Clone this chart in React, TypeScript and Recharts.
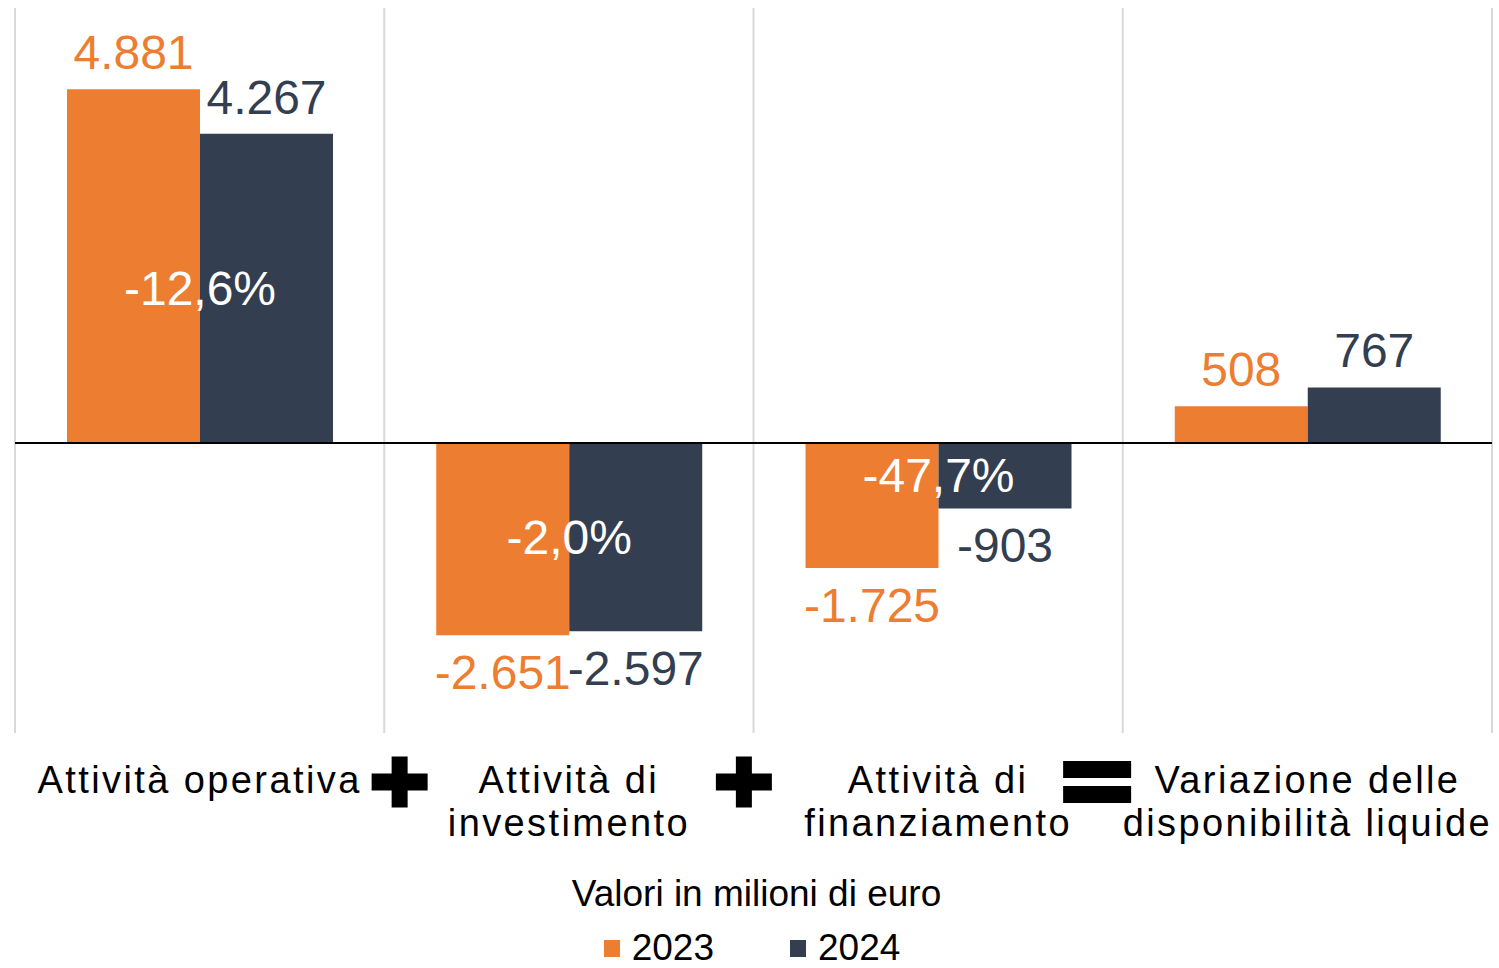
import React from 'react';
import { BarChart, Bar, XAxis, YAxis, CartesianGrid, ReferenceLine, LabelList, Legend } from 'recharts';

const categories = [
  'Attività operativa',
  'Attività di\ninvestimento',
  'Attività di\nfinanziamento',
  'Variazione delle\ndisponibilità liquide',
];
const values2023 = [4881, -2651, -1725, 508];
const values2024 = [4267, -2597, -903, 767];
const changeLabels = ['-12,6%', '-2,0%', '-47,7%', ''];
const operators = ['+', '+', '=', ''];
const seriesNames = ['2023', '2024'];
const axisTitle = 'Valori in milioni di euro';

const ORANGE = '#ED7D31';
const NAVY = '#333F50';
const colors = [ORANGE, NAVY];
const FONT = '"Liberation Sans", Arial, Helvetica, sans-serif';

// horizontal offset of the +/= sign from its category centre
const OPERATOR_DX = [200, 175, 159];

const data = categories.map((name, i) => ({
  name,
  y2023: values2023[i],
  y2024: values2024[i],
  pct: changeLabels[i],
}));

const fmt = (v: number) => {
  const s = String(Math.abs(v)).replace(/\B(?=(\d{3})+(?!\d))/g, '.');
  return v < 0 ? '-' + s : s;
};

const CategoryTick = (props: any) => {
  const { x, y, payload } = props;
  const index = props.index ?? payload.index ?? 0;
  const lines = String(payload.value).split('\n');
  const op = operators[index];
  const ox = x + (OPERATOR_DX[index] ?? 0);
  const oy = y + 49;
  return (
    <g>
      <text textAnchor="middle" fill="#000" fontSize={38} letterSpacing={2.4} fontFamily={FONT}>
        {lines.map((l, i) => (
          <tspan key={i} x={x} y={y + 60 + i * 43}>
            {l}
          </tspan>
        ))}
      </text>
      {op === '+' && (
        <g fill="#000">
          <rect x={ox - 28} y={oy - 8.5} width={56} height={17} />
          <rect x={ox - 8} y={oy - 25.5} width={16} height={51} />
        </g>
      )}
      {op === '=' && (
        <g fill="#000">
          <rect x={ox - 34} y={oy - 21} width={68} height={17} />
          <rect x={ox - 34} y={oy + 4} width={68} height={17} />
        </g>
      )}
    </g>
  );
};

const makeValueLabel = (color: string) => (props: any) => {
  const { x, y, width, height, value } = props;
  const top = Math.min(y, y + height);
  const bottom = Math.max(y, y + height);
  const ty = value >= 0 ? top - 20 : bottom + 54;
  return (
    <text x={x + width / 2} y={ty} textAnchor="middle" fill={color} fontSize={48} fontFamily={FONT}>
      {fmt(value)}
    </text>
  );
};

// change % sits on the boundary between the two bars, at the middle of the 2024 bar
const ChangeLabel = (props: any) => {
  const { x, y, height, value } = props;
  if (!value) return null;
  return (
    <text
      x={x}
      y={y + height / 2}
      textAnchor="middle"
      dominantBaseline="central"
      fill="#fff"
      fontSize={48}
      fontFamily={FONT}
    >
      {value}
    </text>
  );
};

const renderLegend = () => (
  <div style={{ fontFamily: FONT, color: '#000', fontSize: 37, lineHeight: '40px', width: 1499 }}>
    <div style={{ textAlign: 'center', paddingLeft: 14, height: 40 }}>{axisTitle}</div>
    <div style={{ display: 'flex', justifyContent: 'center', marginTop: 14, gap: 76, paddingLeft: 5 }}>
      {seriesNames.map((n, i) => (
        <div key={n} style={{ display: 'flex', alignItems: 'center', height: 40 }}>
          <span style={{ width: 16, height: 17, background: colors[i], marginRight: 12, display: 'inline-block' }} />
          <span>{n}</span>
        </div>
      ))}
    </div>
  </div>
);

export default function App() {
  return (
    <div style={{ position: 'absolute', left: 0, top: 0, background: '#fff' }}>
      <BarChart
        width={1499}
        height={968}
        data={data}
        margin={{ top: 8, right: 7, left: 15, bottom: 0 }}
        barCategoryGap={52}
        barGap={0}
        style={{ fontFamily: FONT }}
      >
        <CartesianGrid
          horizontal={false}
          stroke="#D9D9D9"
          strokeWidth={2}
          verticalCoordinatesGenerator={({ offset }: any) =>
            [0, 1, 2, 3, 4].map((i) => offset.left + (i * offset.width) / 4)
          }
        />
        <XAxis
          dataKey="name"
          height={235}
          axisLine={false}
          tickLine={false}
          tickSize={0}
          tickMargin={0}
          interval={0}
          tick={<CategoryTick />}
        />
        <YAxis hide domain={[-4000, 6000]} />
        <Bar dataKey="y2023" name={seriesNames[0]} fill={ORANGE} isAnimationActive={false}>
          <LabelList dataKey="y2023" content={makeValueLabel(ORANGE)} />
        </Bar>
        <Bar dataKey="y2024" name={seriesNames[1]} fill={NAVY} isAnimationActive={false}>
          <LabelList dataKey="y2024" content={makeValueLabel(NAVY)} />
          <LabelList dataKey="pct" content={<ChangeLabel />} />
        </Bar>
        <ReferenceLine y={0} stroke="#000" strokeWidth={2} />
        <Legend
          verticalAlign="middle"
          align="center"
          layout="horizontal"
          content={renderLegend}
          wrapperStyle={{ top: 874, left: 0, width: 1499, margin: 0, padding: 0 }}
        />
      </BarChart>
    </div>
  );
}
